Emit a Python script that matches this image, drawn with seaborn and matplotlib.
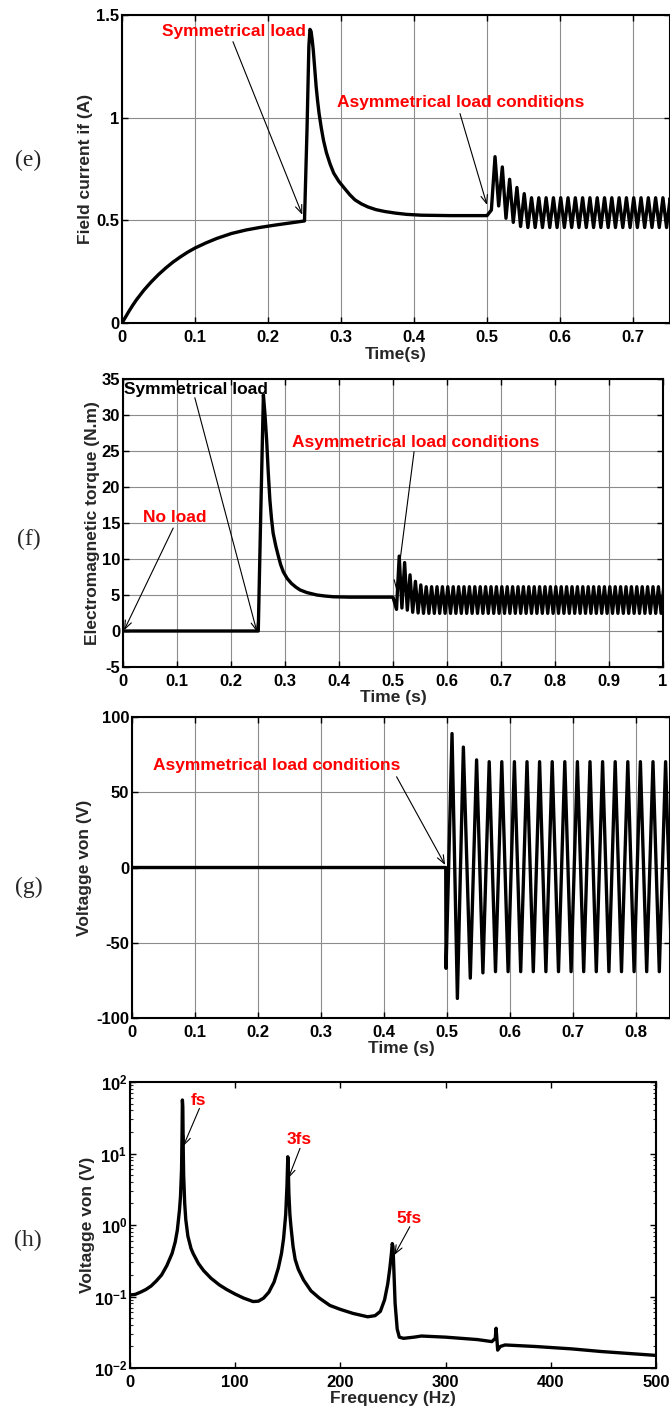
import matplotlib
matplotlib.use("Agg")
import matplotlib.pyplot as plt
import matplotlib.ticker as mticker
import numpy as np
import pandas as pd
import seaborn as sns

# ---------------- (e) field current ----------------
e_t = [0, 0.005, 0.01, 0.015, 0.02, 0.03, 0.04, 0.05, 0.06, 0.07, 0.08, 0.09, 0.1,
       0.115, 0.13, 0.15, 0.17, 0.19, 0.21, 0.23, 0.25,
       0.2535, 0.256, 0.2575, 0.259, 0.2605, 0.262, 0.264, 0.266, 0.268, 0.27, 0.273,
       0.276, 0.28, 0.285, 0.29, 0.297, 0.305, 0.312, 0.319, 0.328, 0.337, 0.348,
       0.36, 0.375, 0.39, 0.41, 0.45, 0.5]
e_if = [0, 0.03, 0.06, 0.088, 0.114, 0.16, 0.2, 0.236, 0.268, 0.297, 0.322, 0.345, 0.365,
        0.39, 0.412, 0.436, 0.453, 0.466, 0.477, 0.487, 0.497,
        0.95, 1.35, 1.43, 1.42, 1.38, 1.33, 1.24, 1.15, 1.08, 1.02, 0.95,
        0.89, 0.83, 0.775, 0.73, 0.69, 0.655, 0.625, 0.60, 0.58, 0.565, 0.552,
        0.543, 0.535, 0.529, 0.525, 0.523, 0.523]
# oscillation after 0.5 s: alternating trough / peak, 5 ms apart
e_osc_t0 = 0.506
e_osc = [0.55, 0.81, 0.57, 0.76, 0.51, 0.70, 0.49, 0.66, 0.47, 0.63] + [0.465, 0.61] * 21

# ---------------- (f) electromagnetic torque ----------------
f_t = [0, 0.25, 0.2505, 0.255, 0.26, 0.263, 0.266, 0.269, 0.272, 0.275, 0.278, 0.283,
       0.288, 0.292, 0.297, 0.304, 0.312, 0.32, 0.328, 0.34, 0.359, 0.375, 0.39, 0.42, 0.5]
f_te = [0, 0, 0, 16.0, 32.8, 30.0, 26.5, 22.0, 18.2, 15.6, 13.6, 11.8,
        10.3, 9.2, 8.2, 7.3, 6.6, 6.1, 5.7, 5.35, 5.0, 4.85, 4.75, 4.7, 4.7]
f_osc_t0 = 0.5065
f_osc = [3.0, 10.4, 3.2, 9.5, 2.9, 7.8, 2.6, 6.9, 2.5, 6.4] + [2.45, 6.15] * 45

# ---------------- (g) voltage von ----------------
g_t = [0, 0.498, 0.4985, 0.508, 0.5165, 0.526, 0.537]
g_v = [0, 0, -67, 89, -87, 80, -73.5]
# 50 Hz: alternating peak / trough, 10 ms apart
g_osc_t0 = 0.547
g_osc = [71.5, -70] + [70.3, -69.2] * 15

# ---------------- (h) spectrum of von ----------------
h_f = [0, 5, 10, 15, 20, 25, 30, 35, 40, 43, 45, 47, 48, 49, 49.5, 49.8, 50.2, 50.6,
       51, 52, 53, 55, 58, 60, 65, 70, 77, 85, 92, 100, 108, 117, 122, 127, 132, 137,
       141, 144, 146, 148, 149.2, 150, 150.5, 151, 152, 153, 155, 157, 160, 165, 172,
       180, 190, 200, 212, 226, 233, 238, 242, 245, 247, 248.5, 249.3, 250, 251, 252,
       254, 256, 260, 270, 277, 300, 330, 344, 347.2, 348, 348.8, 349.5, 352, 356.5,
       385, 420, 448, 500]
h_v = [0.105, 0.107, 0.115, 0.125, 0.14, 0.165, 0.2, 0.27, 0.4, 0.58, 0.85, 1.6, 2.5,
       6, 20, 56, 45, 12, 5, 2.0, 1.2, 0.7, 0.47, 0.4, 0.29, 0.23, 0.18, 0.145, 0.125,
       0.108, 0.095, 0.085, 0.086, 0.095, 0.115, 0.16, 0.25, 0.4, 0.65, 1.4, 3.5, 9,
       6, 2.8, 1.4, 0.95, 0.5, 0.33, 0.24, 0.17, 0.12, 0.095, 0.075, 0.066, 0.058,
       0.052, 0.054, 0.062, 0.09, 0.15, 0.25, 0.40, 0.55, 0.5, 0.2, 0.08, 0.035,
       0.027, 0.026, 0.027, 0.028, 0.027, 0.025, 0.0234, 0.026, 0.036, 0.025, 0.0178,
       0.020, 0.021, 0.020, 0.0185, 0.017, 0.015]


def with_osc(t, v, t0, osc, half=0.005):
    t_osc = t0 + half * np.arange(len(osc))
    return pd.DataFrame({"x": list(t) + list(t_osc), "y": list(v) + list(osc)})


sns.set_theme(style="ticks")
plt.rcParams["font.family"] = ["Liberation Sans", "DejaVu Sans"]
plt.rcParams["font.weight"] = "bold"
plt.rcParams["axes.labelweight"] = "bold"
plt.rcParams["mathtext.fontset"] = "custom"
plt.rcParams["mathtext.rm"] = "Liberation Sans:bold"
plt.rcParams["mathtext.bf"] = "Liberation Sans:bold"
plt.rcParams["mathtext.it"] = "Liberation Sans:bold"

W, H = 670, 1408
fig = plt.figure(figsize=(W / 100, H / 100), dpi=100)


def make_ax(left, top, right, bottom):
    return fig.add_axes([left / W, 1 - bottom / H, (right - left) / W, (bottom - top) / H])


def style(ax, grid=True):
    for s in ax.spines.values():
        s.set_color("black")
        s.set_linewidth(1.5)
    ax.tick_params(direction="in", length=4, width=1, top=True, right=True,
                   labelsize=12, colors="black")
    ax.tick_params(axis="x", pad=5)
    ax.tick_params(axis="y", pad=2)
    if grid:
        ax.grid(True, color="0.55", lw=0.8)
    ax.set_axisbelow(True)


def curve(ax, df):
    sns.lineplot(data=df, x="x", y="y", ax=ax, color="black", lw=2.4,
                 sort=False, estimator=None)


def arrow(ax, head, tail):
    ax.annotate("", xy=head, xytext=tail,
                arrowprops=dict(arrowstyle="->,head_length=0.5,head_width=0.2",
                                color="black", lw=0.8, shrinkA=0, shrinkB=0))


fmt = mticker.FuncFormatter(lambda v, p: "%g" % v)
LAB = 12.5

# (e)
ax = make_ax(122, 15, 670, 323)
curve(ax, with_osc(e_t, e_if, e_osc_t0, e_osc))
ax.set_xlim(0, 0.7507)
ax.set_ylim(0, 1.5)
ax.set_xticks(np.arange(0, 0.75, 0.1))
ax.set_yticks([0, 0.5, 1, 1.5])
ax.xaxis.set_major_formatter(fmt)
ax.yaxis.set_major_formatter(fmt)
style(ax)
ax.set_xlabel("Time(s)", fontsize=LAB, labelpad=1.5)
ax.set_ylabel("Field current if (A)", fontsize=LAB, labelpad=2)
ax.text(0.055, 1.42, "Symmetrical load", color="red", fontsize=12.5, va="center")
arrow(ax, (0.247, 0.527), (0.152, 1.37))
ax.text(0.2945, 1.073, "Asymmetrical load conditions", color="red", fontsize=12.5, va="center")
arrow(ax, (0.5, 0.575), (0.463, 1.02))

# (f)
ax = make_ax(123, 379, 663, 667)
curve(ax, with_osc(f_t, f_te, f_osc_t0, f_osc))
ax.set_xlim(0, 1)
ax.set_ylim(-5, 35)
ax.set_xticks(np.arange(0, 1.01, 0.1))
ax.set_yticks(np.arange(-5, 36, 5))
ax.xaxis.set_major_formatter(fmt)
ax.yaxis.set_major_formatter(fmt)
style(ax)
ax.set_xlabel("Time (s)", fontsize=LAB, labelpad=1)
ax.set_ylabel("Electromagnetic torque (N.m)", fontsize=LAB, labelpad=1)
ax.text(0.002, 33.6, "Symmetrical load", color="black", fontsize=12.5, va="center")
arrow(ax, (0.248, -0.1), (0.133, 32.4))
ax.text(0.037, 15.7, "No load", color="red", fontsize=12.5, va="center")
arrow(ax, (0.002, 0.1), (0.093, 14.3))
ax.text(0.313, 26.2, "Asymmetrical load conditions", color="red", fontsize=12.5, va="center")
arrow(ax, (0.506, 5.7), (0.539, 24.9))

# (g)
ax = make_ax(132, 717, 670, 1018)
curve(ax, with_osc(g_t, g_v, g_osc_t0, g_osc, half=0.01))
ax.set_xlim(0, 0.854)
ax.set_ylim(-100, 100)
ax.set_xticks(np.arange(0, 0.85, 0.1))
ax.set_yticks(np.arange(-100, 101, 50))
ax.xaxis.set_major_formatter(fmt)
ax.yaxis.set_major_formatter(fmt)
style(ax)
ax.set_xlabel("Time (s)", fontsize=LAB, labelpad=1)
ax.set_ylabel("Voltagge von (V)", fontsize=LAB, labelpad=3)
ax.text(0.0333, 68.1, "Asymmetrical load conditions", color="red", fontsize=12.5, va="center")
arrow(ax, (0.497, 1.7), (0.42, 60.3))

# (h)
ax = make_ax(130, 1082, 656, 1368)
ax.set_yscale("log")
curve(ax, pd.DataFrame({"x": h_f, "y": h_v}))
ax.set_xlim(0, 500)
ax.set_ylim(1e-2, 1e2)
ax.set_xticks(np.arange(0, 501, 100))
ax.yaxis.set_major_locator(mticker.LogLocator(base=10, numticks=10))
ax.yaxis.set_minor_locator(mticker.LogLocator(base=10, subs=np.arange(2, 10), numticks=10))
ax.yaxis.set_major_formatter(mticker.FuncFormatter(lambda v, p: r"$10^{%d}$" % round(np.log10(v))))
ax.yaxis.set_minor_formatter(mticker.NullFormatter())
style(ax, grid=False)
ax.tick_params(which="minor", direction="in", length=2.5, width=0.8, left=True, right=True)
ax.set_xlabel("Frequency (Hz)", fontsize=LAB, labelpad=1)
ax.set_ylabel("Voltagge von (V)", fontsize=LAB, labelpad=-1)
ax.text(65, 56, "fs", color="red", fontsize=12.5, ha="center", va="center")
arrow(ax, (50.7, 12.7), (66, 42.7))
ax.text(160.6, 15.5, "3fs", color="red", fontsize=12.5, ha="center", va="center")
arrow(ax, (150.5, 4.5), (161.6, 11.8))
ax.text(265.2, 1.24, "5fs", color="red", fontsize=12.5, ha="center", va="center")
arrow(ax, (251.3, 0.38), (266, 0.946))

# panel letters
for lab, (x, y) in {"(e)": (28, 160), "(f)": (29, 539), "(g)": (29, 887), "(h)": (28, 1240)}.items():
    fig.text(x / W, 1 - y / H, lab, family=["Liberation Serif", "DejaVu Serif"],
             fontweight="normal", fontsize=17, ha="center", va="center")

fig.savefig("out.png", dpi=100, facecolor="white")
